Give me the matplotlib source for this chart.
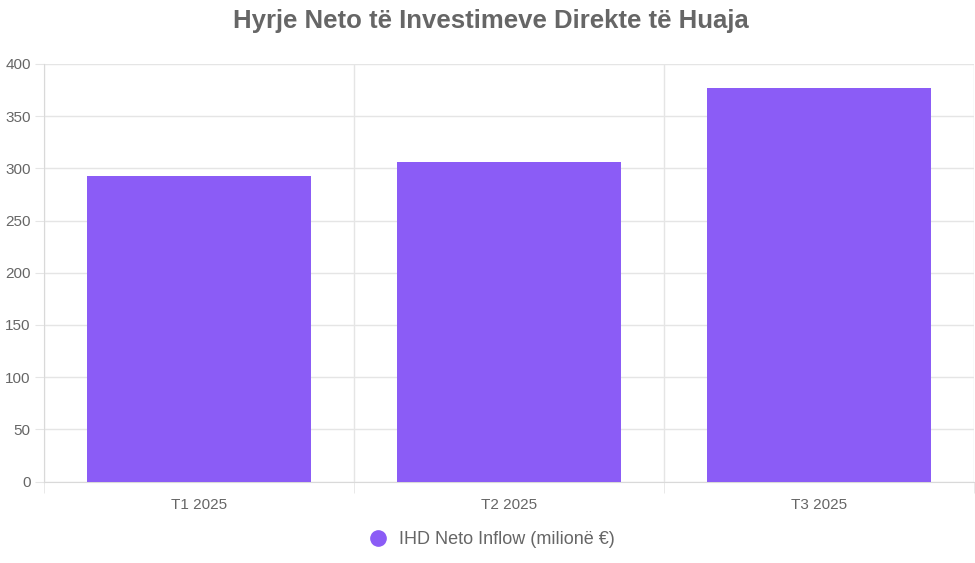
import matplotlib.pyplot as plt
import numpy as np

# Të dhënat
kategorite = ['T1 2025', 'T2 2025', 'T3 2025']
vlerat = [293, 306, 377]
seria = 'IHD Neto Inflow (milionë €)'
titulli = 'Hyrje Neto të Investimeve Direkte të Huaja'
y_ticks = [0, 50, 100, 150, 200, 250, 300, 350, 400]

ngjyra = '#8B5CF6'
gri_tekst = '#666666'
gri_rrjet = '#e5e5e5'

plt.rcParams['font.family'] = ['Liberation Sans', 'DejaVu Sans']

fig = plt.figure(figsize=(9.75, 5.63), dpi=100)
ax = fig.add_axes([44 / 975, 1 - 481.7 / 563, 930 / 975, (481.7 - 63.8) / 563])

x = np.arange(len(kategorite))
ax.bar(x, vlerat, width=0.72, color=ngjyra, zorder=3, label=seria)

ax.set_xlim(-0.5, len(kategorite) - 0.5)
ax.set_ylim(0, 400)
ax.set_yticks(y_ticks)
ax.set_xticks(x)
ax.set_xticklabels(kategorite)
ax.set_xticks(np.arange(-0.5, len(kategorite)), minor=True)

# Rrjeti
ax.grid(axis='y', color=gri_rrjet, linewidth=1, zorder=0)
ax.grid(axis='x', which='minor', color=gri_rrjet, linewidth=1, zorder=0)
ax.tick_params(axis='y', length=6.5, color=gri_rrjet, pad=3, labelsize=11, labelcolor=gri_tekst)
ax.tick_params(axis='x', which='major', length=0, pad=12, labelsize=11, labelcolor=gri_tekst)
ax.tick_params(axis='x', which='minor', length=8, color=gri_rrjet)

for s in ['top', 'right']:
    ax.spines[s].set_visible(False)
for s in ['left', 'bottom']:
    ax.spines[s].set_color('#d9d9d9')

fig.text(0.503, 1 - 21 / 563, titulli, ha='center', va='center',
         fontsize=18.5, fontweight='bold', color=gri_tekst)

fig.legend(handles=[plt.Line2D([], [], marker='o', linestyle='', markersize=11,
                               color=ngjyra, label=seria)],
           loc='center', bbox_to_anchor=(0.5, 1 - 540 / 563), frameon=False,
           fontsize=13, labelcolor=gri_tekst, handletextpad=0.2)

fig.savefig('out.png', dpi=100)
